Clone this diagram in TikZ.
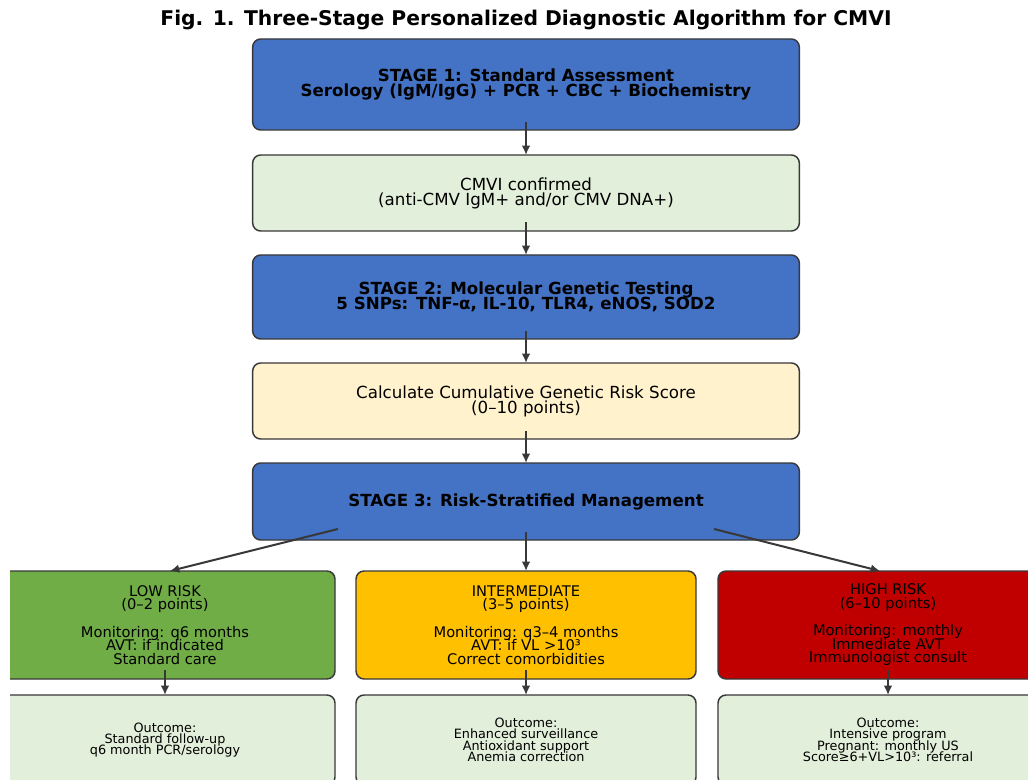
\documentclass[tikz,border=0pt]{standalone}
\usepackage{fontspec}
\setmainfont{DejaVu Sans}
\usetikzlibrary{positioning, calc}
\usetikzlibrary{shapes,arrows.meta}
\definecolor{stageblue}{HTML}{4472C4}
\definecolor{notegreen}{HTML}{E2EFDA}
\definecolor{scorecream}{HTML}{FFF2CC}
\definecolor{lowgreen}{HTML}{70AD47}
\definecolor{midamber}{HTML}{FFC000}
\definecolor{highred}{HTML}{C00000}
\definecolor{edgegray}{HTML}{383838}
\newcommand{\tightlines}{\lineskiplimit=-100pt\relax}
\tikzstyle{block} = [rectangle, draw=edgegray, line width=1.1pt, rounded corners=6pt,
    text centered, align=center, inner sep=0pt, outer sep=0pt, minimum width=410pt]
\tikzstyle{stage} = [block, fill=stageblue,
    font={\bfseries\fontsize{12.5}{11.25}\selectfont\tightlines}]
\tikzstyle{note} = [block, font={\fontsize{12.5}{11.25}\selectfont\tightlines}]
\tikzstyle{risk} = [block, minimum width=255pt, minimum height=81pt,
    font={\fontsize{11}{10.2}\selectfont\tightlines}]
\tikzstyle{outcome} = [block, fill=notegreen, minimum width=255pt, minimum height=67.5pt,
    font={\fontsize{9.6}{8.5}\selectfont\tightlines}]
\tikzstyle{line} = [draw=edgegray, line width=1.5pt, -{Latex[length=7pt,width=6.5pt]}]

\begin{document}
\begin{tikzpicture}[x=0.75pt, y=-0.75pt, node distance = 18pt]
  \fill[white] (0,0) rectangle (1028,780);
  \useasboundingbox (0,0) rectangle (1028,780);
  \node [font=\bfseries\fontsize{15.2}{17}\selectfont] (title) at (526,20)
    {Fig. 1. Three-Stage Personalized Diagnostic Algorithm for CMVI};
  \begin{scope}
  \clip (10,0) rectangle (1028,780);
   % Place nodes
    \node [stage, minimum height=68.25pt] (s1) at (526,84.5)
      {STAGE 1: Standard Assessment\\Serology (IgM/IgG) + PCR + CBC + Biochemistry};
    \node [note, fill=notegreen, minimum height=57pt, below=18.75pt of s1] (conf)
      {CMVI confirmed\\(anti-CMV IgM+ and/or CMV DNA+)};
    \node [stage, minimum height=63pt, below=of conf] (s2)
      {STAGE 2: Molecular Genetic Testing\\5 SNPs: TNF-α, IL-10, TLR4, eNOS, SOD2};
    \node [note, fill=scorecream, minimum height=57pt, below=of s2] (score)
      {Calculate Cumulative Genetic Risk Score\\(0--10 points)};
    \node [stage, minimum height=57.75pt, below=of score] (s3)
      {STAGE 3: Risk-Stratified Management};
    \node [risk, fill=midamber, below=23.25pt of s3] (mid)
      {INTERMEDIATE\\(3--5 points)\\[10.2pt]Monitoring: q3--4 months\\AVT: if VL >10³\\Correct comorbidities};
    \node [risk, fill=lowgreen, left=15.75pt of mid] (low)
      {LOW RISK\\(0--2 points)\\[10.2pt]Monitoring: q6 months\\AVT: if indicated\\Standard care};
    \node [risk, fill=highred, right=16.5pt of mid] (high)
      {HIGH RISK\\(6--10 points)\\[10.2pt]Monitoring: monthly\\Immediate AVT\\Immunologist consult};
    \node [outcome, below=12pt of low] (outlow)
      {Outcome:\\Standard follow-up\\q6 month PCR/serology};
    \node [outcome, below=12pt of mid] (outmid)
      {Outcome:\\Enhanced surveillance\\Antioxidant support\\Anemia correction};
    \node [outcome, below=12pt of high] (outhigh)
      {Outcome:\\Intensive program\\Pregnant: monthly US\\Score≥6+VL>10³: referral};
   % Draw edges
    \path [line] ([yshift=6pt]s1.south) -- (conf.north);
    \path [line] ([yshift=6.5pt]conf.south) -- (s2.north);
    \path [line] ([yshift=6pt]s2.south) -- (score.north);
    \path [line] ([yshift=6pt]score.south) -- (s3.north);
    \path [line] ([shift={(-141pt,8.25pt)}]s3.south) -- ([xshift=3.75pt]low.north);
    \path [line] ([yshift=6pt]s3.south) -- (mid.north);
    \path [line] ([shift={(141pt,8.25pt)}]s3.south) -- ([xshift=-6pt]high.north);
    \path [line] ([yshift=6.75pt]low.south) -- (outlow.north);
    \path [line] ([yshift=6.75pt]mid.south) -- (outmid.north);
    \path [line] ([yshift=6.75pt]high.south) -- (outhigh.north);
  \end{scope}
\end{tikzpicture}
\end{document}
